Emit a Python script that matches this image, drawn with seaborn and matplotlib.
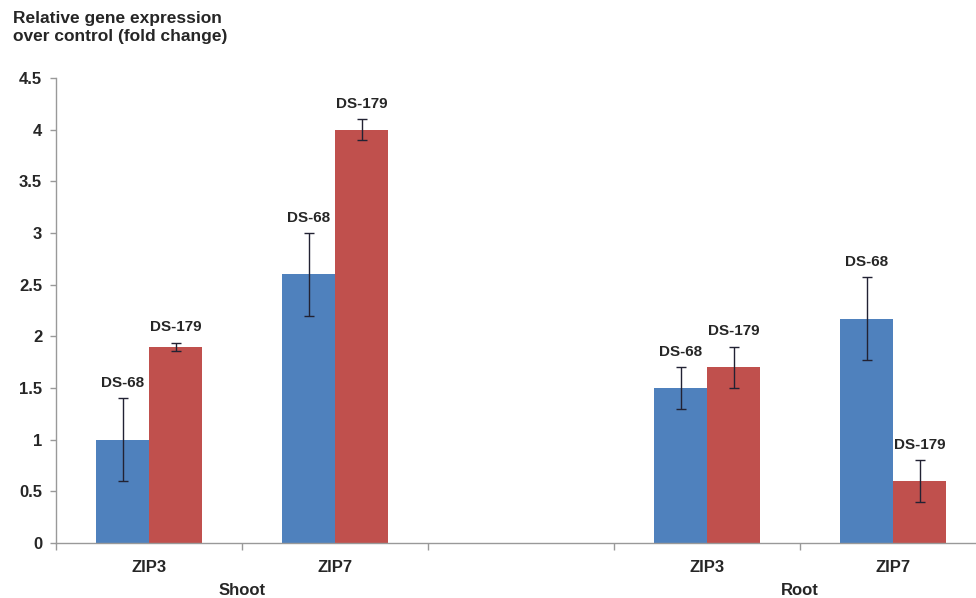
import pandas as pd
import matplotlib.pyplot as plt
import seaborn as sns

# données
slots = ["Shoot ZIP3", "Shoot ZIP7", "gap", "Root ZIP3", "Root ZIP7"]
slot_labels = ["ZIP3", "ZIP7", "", "ZIP3", "ZIP7"]
groups = ["Shoot", "Root"]
group_pos = [0.5, 3.5]
lines = ["DS-68", "DS-179"]

categories = ["Shoot ZIP3", "Shoot ZIP7", "Root ZIP3", "Root ZIP7"]
ds68 = [1.0, 2.6, 1.5, 2.17]
ds68_err = [0.4, 0.4, 0.2, 0.4]
ds179 = [1.9, 4.0, 1.7, 0.6]
ds179_err = [0.04, 0.1, 0.2, 0.2]

colors = ["#4F81BD", "#C0504D"]

df = pd.DataFrame({
    "cat": categories * 2,
    "line": ["DS-68"] * 4 + ["DS-179"] * 4,
    "val": ds68 + ds179,
    "err": ds68_err + ds179_err,
})

sns.set_style("white")
plt.rcParams["font.family"] = ["Liberation Sans", "DejaVu Sans"]
plt.rcParams["font.weight"] = "bold"

fig = plt.figure(figsize=(9.76, 5.98), dpi=100)
# l'axe déborde un peu à droite, comme dans l'original recadré
ax = fig.add_axes([0.0574, 0.092, 0.9529, 0.7776])

sns.barplot(data=df, x="cat", y="val", hue="line", order=slots, hue_order=lines,
            palette=colors, saturation=1, width=0.57, gap=0, linewidth=0,
            errorbar=None, legend=False, ax=ax)

# barres d'erreur + étiquettes au-dessus
for container, line in zip(ax.containers, lines):
    sub = df[df["line"] == line].set_index("cat")
    for bar in container:
        xc = bar.get_x() + bar.get_width() / 2
        cat = slots[int(round(xc))]
        if cat not in sub.index:
            continue
        v = sub.loc[cat, "val"]
        e = sub.loc[cat, "err"]
        ax.errorbar(xc, v, yerr=e, fmt="none", ecolor="#222233", elinewidth=1,
                    capsize=3.5, capthick=1)
        ax.annotate(line, (xc, v + e), xytext=(0, 6), textcoords="offset points",
                    ha="center", va="bottom", fontsize=11, fontweight="bold")

ax.set_ylim(0, 4.5)
ax.set_yticks([0, 0.5, 1, 1.5, 2, 2.5, 3, 3.5, 4, 4.5])
ax.set_yticklabels(["0", "0.5", "1", "1.5", "2", "2.5", "3", "3.5", "4", "4.5"])
ax.set_xlim(-0.5, 4.5)
ax.set_xticks(range(len(slots)))
ax.set_xticklabels(slot_labels)
ax.set_xticks([i - 0.5 for i in range(len(slots) + 1)], minor=True)
ax.tick_params(axis="x", which="major", bottom=True, length=0, pad=12, labelsize=12)
ax.tick_params(axis="x", which="minor", bottom=True, length=5, width=1,
               color="#999999", direction="out")
ax.tick_params(axis="y", left=True, length=4, width=1, color="#999999",
               direction="out", labelsize=12, pad=6)
ax.set_xlabel("")
ax.set_ylabel("")

sns.despine(ax=ax)
for s in ["left", "bottom"]:
    ax.spines[s].set_color("#999999")
    ax.spines[s].set_linewidth(1)

for g, p in zip(groups, group_pos):
    ax.text(p, -0.085, g, transform=ax.get_xaxis_transform(), ha="center", va="top",
            fontsize=12, fontweight="bold")

fig.text(0.013, 0.982, "Relative gene expression\nover control (fold change)",
         ha="left", va="top", fontsize=12.5, fontweight="bold", linespacing=1.25)

fig.savefig("out.png", dpi=100)
